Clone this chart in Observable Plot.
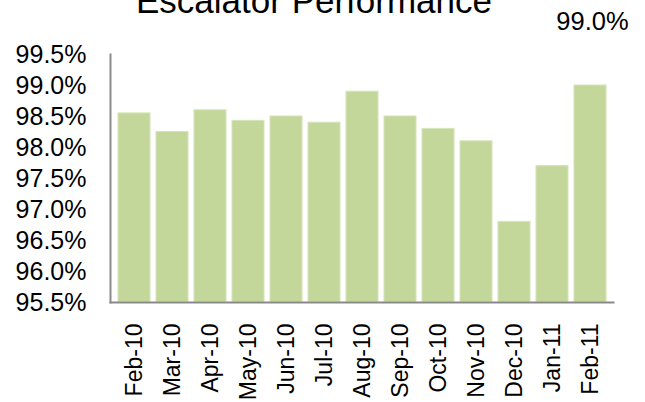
<!DOCTYPE html>
<html>
<head>
<meta charset="utf-8">
<script src="https://cdn.jsdelivr.net/npm/d3@7"></script>
<script src="https://cdn.jsdelivr.net/npm/@observablehq/plot@0.6"></script>
<style>
  html, body { margin: 0; padding: 0; background: #fff; }
  #chart { width: 645px; height: 402px; overflow: hidden; }
</style>
</head>
<body>
<div id="chart"></div>
<script>
const months = ["Feb-10","Mar-10","Apr-10","May-10","Jun-10","Jul-10","Aug-10","Sep-10","Oct-10","Nov-10","Dec-10","Jan-11","Feb-11"];
const performance = [98.55, 98.25, 98.6, 98.43, 98.5, 98.4, 98.9, 98.5, 98.3, 98.1, 96.8, 97.7, 99.0];
const yTicks = [95.5, 96.0, 96.5, 97.0, 97.5, 98.0, 98.5, 99.0, 99.5];
const title = "Escalator Performance";
const calloutMonth = "Feb-11";
const calloutLabel = "99.0%";

const data = months.map((m, i) => ({month: m, value: performance[i]}));
const yMin = yTicks[0];

const font = "'Liberation Sans', Arial, sans-serif";

const chart = Plot.plot({
  width: 645,
  height: 402,
  marginTop: 54,
  marginBottom: 100,
  marginLeft: 110,
  marginRight: 32,
  style: {fontFamily: font, background: "#fff", overflow: "visible"},
  x: {domain: months, paddingInner: 0.17, paddingOuter: 0.1, label: null},
  y: {domain: [yTicks[0], yTicks[yTicks.length - 1]], label: null},
  marks: [
    Plot.barY(data, {x: "month", y1: () => yMin, y2: "value", fill: "#c4d79b", stroke: "#d6e3b8", strokeWidth: 1}),
    Plot.axisY({ticks: yTicks, tickSize: 0, tickPadding: 24, tickFormat: d => d.toFixed(1) + "%", fontSize: 25, fill: "#000"}),
    Plot.axisX({tickSize: 0, tickPadding: 21, tickRotate: -90, fontSize: 23, fill: "#000"}),
    Plot.frame({anchor: "left", stroke: "#8a8a8a", strokeWidth: 2}),
    Plot.frame({anchor: "bottom", stroke: "#8a8a8a", strokeWidth: 2}),
    Plot.text([calloutLabel], {x: () => calloutMonth, frameAnchor: "top", dx: 2, dy: -43, text: d => d, fontSize: 25.5, fill: "#000"}),
    Plot.text([title], {frameAnchor: "top", dx: -48, dy: -66, text: d => d, fontSize: 35, fill: "#000"})
  ]
});
document.getElementById("chart").appendChild(chart);
</script>
</body>
</html>
